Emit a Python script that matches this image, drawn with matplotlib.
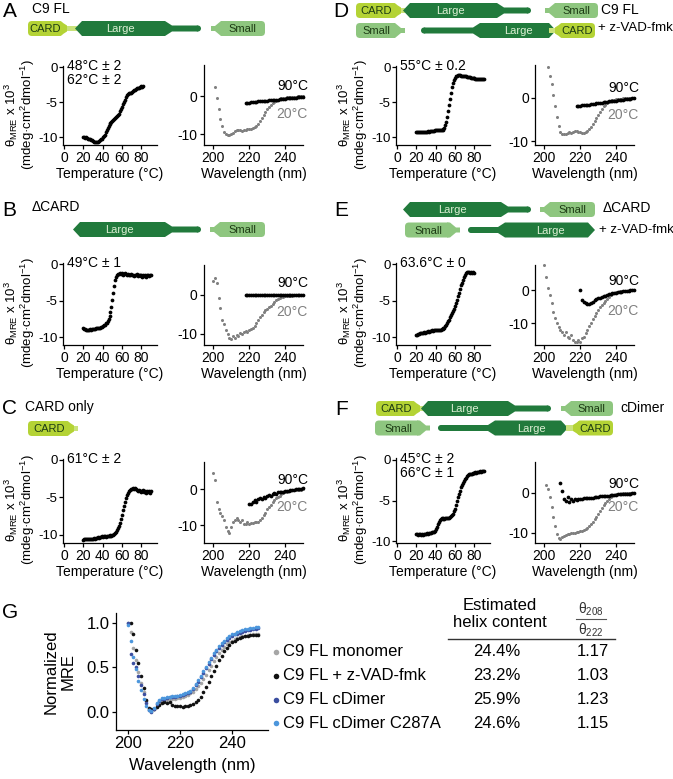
import numpy as np
import matplotlib
matplotlib.use('Agg')
import matplotlib.pyplot as plt
from matplotlib.patches import Polygon, FancyBboxPatch, Circle

plt.rcParams['font.family'] = ['Liberation Sans', 'DejaVu Sans']
plt.rcParams['mathtext.fontset'] = 'custom'
plt.rcParams['mathtext.rm'] = 'Liberation Sans'
plt.rcParams['mathtext.it'] = 'Liberation Sans:italic'
plt.rcParams['axes.unicode_minus'] = False

# ---- thermal melts (theta at 222 nm, x10^3), 1 degree steps from 20 C ----
melt_A = [-10.0, -10.0, -10.1, -10.0, -10.1, -10.2, -10.2, -10.3, -10.4, -10.4,
          -10.5, -10.6, -10.6, -10.7, -10.6, -10.6, -10.5, -10.4, -10.3, -10.2,
          -10.0, -9.8, -9.6, -9.3, -9.0, -8.7, -8.4, -8.1, -7.9, -7.8,
          -7.6, -7.5, -7.4, -7.2, -7.1, -7.0, -6.8, -6.6, -6.3, -6.0,
          -5.7, -5.3, -5.0, -4.6, -4.3, -4.0, -3.8, -3.7, -3.6, -3.6,
          -3.5, -3.4, -3.3, -3.3, -3.1, -3.0, -2.9, -2.9, -2.8, -2.8,
          -2.7, -2.8, -2.7]
melt_B = [-8.8, -8.9, -8.9, -9.0, -9.0, -9.0, -9.0, -8.9, -9.0, -8.9,
          -8.9, -8.9, -8.9, -8.8, -8.8, -8.8, -8.7, -8.7, -8.6, -8.6,
          -8.5, -8.4, -8.3, -8.1, -8.0, -7.8, -7.5, -7.1, -6.5, -5.8,
          -4.9, -3.9, -3.0, -2.2, -1.7, -1.4, -1.3, -1.3, -1.2, -1.3,
          -1.2, -1.4, -1.3, -1.2, -1.3, -1.4, -1.3, -1.5, -1.4, -1.3,
          -1.5, -1.4, -1.6, -1.4, -1.5, -1.3, -1.6, -1.5, -1.4, -1.6,
          -1.5, -1.7, -1.4, -1.6, -1.5, -1.7, -1.5, -1.4, -1.6, -1.5,
          -1.4]
melt_C = [-10.7, -10.6, -10.6, -10.5, -10.6, -10.5, -10.6, -10.5, -10.5, -10.6,
          -10.5, -10.4, -10.5, -10.4, -10.4, -10.3, -10.4, -10.3, -10.3, -10.2,
          -10.3, -10.2, -10.2, -10.3, -10.1, -10.2, -10.1, -10.2, -10.0, -10.1,
          -10.0, -10.0, -9.9, -9.8, -9.6, -9.4, -9.1, -8.8, -8.4, -7.9,
          -7.3, -6.7, -6.1, -5.6, -5.1, -4.7, -4.4, -4.2, -4.0, -3.9,
          -3.9, -3.8, -3.9, -3.8, -3.9, -4.0, -4.1, -4.0, -4.2, -4.1,
          -4.3, -4.2, -4.0, -4.3, -4.1, -4.4, -4.2, -4.3, -4.1, -4.4,
          -4.2]
melt_D = [-9.3, -9.3, -9.3, -9.3, -9.3, -9.2, -9.3, -9.2, -9.2, -9.2,
          -9.2, -9.2, -9.1, -9.2, -9.1, -9.1, -9.1, -9.1, -9.1, -9.0,
          -9.0, -9.0, -9.0, -9.0, -9.0, -9.0, -8.9, -8.9, -8.8, -8.6,
          -8.3, -7.8, -7.1, -6.3, -5.4, -4.5, -3.6, -2.8, -2.2, -1.8,
          -1.5, -1.3, -1.2, -1.1, -1.1, -1.1, -1.2, -1.2, -1.2, -1.3,
          -1.3, -1.3, -1.4, -1.4, -1.4, -1.4, -1.5, -1.5, -1.5, -1.5,
          -1.5, -1.6, -1.6, -1.6, -1.6, -1.6, -1.6, -1.7, -1.6, -1.7,
          -1.7]
melt_E = [-9.7, -9.7, -9.6, -9.6, -9.5, -9.5, -9.4, -9.4, -9.3, -9.4,
          -9.3, -9.3, -9.2, -9.3, -9.2, -9.2, -9.1, -9.2, -9.1, -9.1,
          -9.1, -9.1, -9.0, -9.1, -9.0, -9.0, -8.9, -8.9, -8.8, -8.7,
          -8.5, -8.3, -8.1, -7.8, -7.6, -7.3, -7.0, -6.7, -6.4, -6.1,
          -5.7, -5.3, -4.9, -4.4, -3.9, -3.4, -2.9, -2.5, -2.1, -1.7,
          -1.4, -1.2, -1.1, -1.1, -1.1, -1.2, -1.1, -1.2, -1.1, -1.2]
melt_F = [-9.1, -9.1, -9.2, -9.1, -9.1, -9.2, -9.1, -9.2, -9.1, -9.1,
          -9.1, -9.0, -9.1, -9.0, -9.0, -9.0, -8.9, -8.9, -8.8, -8.7,
          -8.5, -8.2, -7.9, -7.6, -7.4, -7.3, -7.2, -7.3, -7.2, -7.3,
          -7.2, -7.2, -7.1, -7.2, -7.1, -7.0, -6.9, -6.8, -6.6, -6.3,
          -6.0, -5.6, -5.1, -4.6, -4.2, -3.8, -3.4, -3.1, -2.8, -2.6,
          -2.4, -2.2, -2.0, -1.9, -1.8, -1.8, -1.7, -1.7, -1.6, -1.6,
          -1.6, -1.5, -1.6, -1.5, -1.5, -1.5, -1.4, -1.5, -1.4, -1.4,
          -1.4]
melt_start = 20
melt_notes = {'A': ['48°C ± 2', '62°C ± 2'], 'B': ['49°C ± 1'], 'C': ['61°C ± 2'],
              'D': ['55°C ± 0.2'], 'E': ['63.6°C ± 0'], 'F': ['45°C ± 2', '66°C ± 1']}

# ---- CD spectra (x10^3), 1 nm steps; (first wavelength, values) ----
cd20_A = (201, [2.5, -0.5, -3.5, -6.0, -8.0, -9.4, -10.1, -10.3, -10.3, -10.0,
                -9.7, -9.3, -9.0, -8.9, -9.0, -9.1, -9.0, -8.9, -8.8, -8.8,
                -8.7, -8.5, -8.2, -7.8, -7.3, -6.7, -5.9, -5.0, -4.2, -3.5,
                -2.9, -2.3, -1.9, -1.5, -1.2, -1.0, -0.8, -0.6, -0.5, -0.4,
                -0.3, -0.3, -0.3, -0.2, -0.2, -0.2, -0.1, -0.1, -0.1, -0.1])
cd90_A = (218, [-1.8, -1.7, -1.7, -1.6, -1.6, -1.5, -1.5, -1.4, -1.4, -1.3,
                -1.3, -1.2, -1.2, -1.1, -1.1, -1.0, -1.0, -0.9, -0.9, -0.8,
                -0.8, -0.7, -0.7, -0.6, -0.6, -0.5, -0.5, -0.4, -0.4, -0.3,
                -0.3, -0.3, -0.2])
cd20_B = (200, [3.5, 4.3, 3.0, -1.0, -3.5, -6.5, -7.5, -9.0, -10.0, -11.0,
                -11.2, -10.5, -11.0, -10.2, -10.5, -9.8, -10.0, -9.5, -9.3, -9.5,
                -9.0, -8.8, -8.5, -8.0, -7.2, -6.5, -5.8, -5.2, -4.5, -4.0,
                -3.6, -3.2, -2.8, -2.3, -1.8, -1.4, -1.1, -0.8, -0.6, -0.5,
                -0.4, -0.3, -0.3, -0.3, -0.3, -0.2, -0.2, -0.2, -0.2, -0.2, -0.2])
cd90_B = (218, [-0.2, -0.1, -0.2, -0.2, -0.1, -0.2, -0.2, -0.1, -0.2, -0.2,
                -0.1, -0.2, -0.1, -0.2, -0.2, -0.1, -0.2, -0.1, -0.2, -0.2,
                -0.1, -0.2, -0.1, -0.1, -0.2, -0.1, -0.1, -0.2, -0.1, -0.1,
                -0.1, -0.1, -0.1])
cd20_C = (200, [4.5, 2.5, -3.5, -5.5, -6.5, -7.5, -8.5, -10.5, -11.5, -12.0,
                -10.5, -9.0, -8.5, -8.0, -8.5, -9.0, -8.5, -9.5, -9.5, -9.0,
                -9.5, -9.3, -9.3, -9.0, -9.2, -9.0, -8.5, -8.0, -7.2, -6.5,
                -5.5, -5.0, -4.3, -3.5, -3.0, -2.5, -2.0, -1.8, -1.3, -1.0,
                -0.8, -0.6, -0.5, -0.4, -0.3, -0.3, -0.2, -0.2, -0.1, -0.1, 0.0])
cd90_C = (220, [-4.0, -4.2, -3.5, -3.0, -3.5, -2.8, -2.5, -2.8, -2.0, -2.3,
                -1.8, -1.5, -1.8, -1.2, -1.0, -1.2, -0.8, -0.7, -0.6, -0.8,
                -0.5, -0.4, -0.5, -0.3, -0.2, -0.1, 0.0, 0.1, 0.0, 0.2, 0.3])
cd20_D = (202, [7.0, 5.0, 3.0, 0.5, -2.0, -4.5, -6.5, -7.8, -8.4, -8.4,
                -8.2, -8.0, -7.9, -8.0, -7.9, -7.7, -7.6, -7.8, -7.9, -8.0,
                -8.0, -7.9, -7.6, -7.2, -6.7, -6.0, -5.3, -4.6, -3.9, -3.2,
                -2.6, -2.0, -1.6, -1.3, -1.0, -0.8, -0.6, -0.5, -0.4, -0.3,
                -0.3, -0.3, -0.2, -0.2, -0.2, -0.1, -0.1, -0.1, -0.1])
cd90_D = (218, [-2.0, -1.9, -1.9, -1.8, -1.8, -1.7, -1.6, -1.6, -1.5, -1.5,
                -1.4, -1.3, -1.3, -1.2, -1.2, -1.1, -1.0, -1.0, -0.9, -0.9,
                -0.8, -0.7, -0.7, -0.6, -0.6, -0.5, -0.5, -0.4, -0.4, -0.3,
                -0.3, -0.2, -0.2])
cd20_E = (200, [7.5, 4.0, 0.5, -1.5, -4.0, -6.5, -8.5, -10.0, -11.0, -12.0,
                -12.5, -13.5, -12.5, -14.0, -14.5, -13.5, -15.0, -15.5, -15.5, -15.0,
                -15.5, -14.5, -14.0, -13.0, -12.0, -10.8, -9.8, -8.8, -7.8, -6.8,
                -6.0, -5.2, -4.5, -3.8, -3.2, -2.6, -2.1, -1.6, -1.2, -0.9,
                -0.7, -0.5, -0.4, -0.3, -0.3, -0.2, -0.2, -0.1, -0.1, -0.1, 0.0])
cd90_E = (220, [0.0, -3.0, -3.6, -4.0, -4.3, -4.1, -3.8, -3.5, -3.1, -2.8,
                -2.5, -2.3, -2.1, -1.9, -1.7, -1.5, -1.3, -1.2, -1.0, -0.9,
                -0.8, -0.7, -0.6, -0.5, -0.4, -0.3, -0.3, -0.2, -0.1, -0.1, 0.0])
cd20_F = (201, [2.0, 1.0, -1.0, -3.5, -6.0, -8.3, -10.2, -11.3, -11.4, -11.0,
                -10.7, -10.5, -10.3, -10.2, -10.1, -10.0, -9.9, -9.8, -9.7, -9.6,
                -9.4, -9.2, -9.0, -8.7, -8.3, -7.8, -7.2, -6.6, -5.9, -5.2,
                -4.5, -3.8, -3.1, -2.5, -2.0, -1.5, -1.1, -0.8, -0.5, -0.3,
                -0.2, -0.2, -0.2, -0.1, -0.1, -0.1, -0.1, -0.1, -0.1, -0.1])
cd90_F = (209, [2.5, 0.5, -1.5, -2.0, -1.0, -2.2, -1.6, -2.0, -1.5, -1.8,
                -1.6, -1.5, -1.5, -1.4, -1.4, -1.3, -1.3, -1.2, -1.2, -1.1,
                -1.0, -1.0, -0.9, -0.9, -0.8, -0.8, -0.7, -0.7, -0.6, -0.6,
                -0.5, -0.5, -0.4, -0.4, -0.3, -0.3, -0.3, -0.2, -0.2, -0.2,
                -0.1, -0.1])

# ---- panel G: normalized spectra ----
g_names = ['C9 FL monomer', 'C9 FL + z-VAD-fmk', 'C9 FL cDimer', 'C9 FL cDimer C287A']
g_helix = ['24.4%', '23.2%', '25.9%', '24.6%']
g_ratio = ['1.17', '1.03', '1.23', '1.15']
g_colors = ['#a6a6a6', '#111111', '#3b4ea0', '#4c96dc']
g_monomer = (200, [1.00, 0.90, 0.72, 0.58, 0.45, 0.33, 0.22, 0.12, 0.04, 0.01,
                   0.03, 0.07, 0.10, 0.12, 0.13, 0.14, 0.15, 0.15, 0.15, 0.16,
                   0.16, 0.17, 0.18, 0.19, 0.21, 0.23, 0.26, 0.29, 0.33, 0.37,
                   0.42, 0.47, 0.52, 0.57, 0.62, 0.66, 0.70, 0.73, 0.76, 0.78,
                   0.80, 0.82, 0.83, 0.84, 0.85, 0.85, 0.86, 0.86, 0.87, 0.87, 0.87])
g_zvad = (201, [1.00, 0.88, 0.70, 0.55, 0.40, 0.27, 0.14, 0.05, 0.03,
                0.04, 0.06, 0.08, 0.10, 0.11, 0.10, 0.11, 0.08, 0.07, 0.07,
                0.07, 0.06, 0.07, 0.07, 0.08, 0.09, 0.11, 0.14, 0.17, 0.22,
                0.28, 0.34, 0.40, 0.46, 0.52, 0.58, 0.63, 0.68, 0.72, 0.75,
                0.78, 0.80, 0.82, 0.83, 0.84, 0.85, 0.85, 0.86, 0.86, 0.86, 0.86])
g_cdimer = (200, [1.00, 0.65, 0.55, 0.50, 0.40, 0.30, 0.20, 0.10, 0.02, 0.00,
                  0.04, 0.09, 0.13, 0.15, 0.15, 0.16, 0.17, 0.17, 0.17, 0.18,
                  0.18, 0.19, 0.20, 0.21, 0.23, 0.26, 0.30, 0.34, 0.39, 0.44,
                  0.49, 0.54, 0.59, 0.64, 0.68, 0.72, 0.75, 0.78, 0.81, 0.83,
                  0.85, 0.87, 0.88, 0.89, 0.90, 0.91, 0.92, 0.92, 0.93, 0.93, 0.94])
g_c287a = (200, [0.98, 0.80, 0.62, 0.48, 0.35, 0.25, 0.15, 0.07, 0.02, 0.01,
                 0.05, 0.10, 0.14, 0.16, 0.16, 0.17, 0.17, 0.18, 0.18, 0.18,
                 0.19, 0.20, 0.21, 0.22, 0.24, 0.27, 0.31, 0.36, 0.41, 0.46,
                 0.51, 0.56, 0.61, 0.66, 0.70, 0.74, 0.77, 0.80, 0.83, 0.85,
                 0.87, 0.88, 0.90, 0.91, 0.92, 0.93, 0.93, 0.94, 0.94, 0.95, 0.95])

# colours of the domain cartoons
c_card, c_card_neck = '#b4d335', '#c9e27a'
c_large, c_small = '#217a3c', '#8ec67f'
txt_dark, txt_light = '#1d3b14', '#dcefd3'
grey20 = '#808080'

W, H = 673, 779
fig = plt.figure(figsize=(W / 100, H / 100), dpi=100)
ov = fig.add_axes([0, 0, 1, 1])
ov.set_xlim(0, W)
ov.set_ylim(H, 0)
ov.axis('off')


def axes_px(l, t, r, b):
    return fig.add_axes([l / W, 1 - b / H, (r - l) / W, (b - t) / H])


def style(ax, fs=10):
    for s in ['top', 'right']:
        ax.spines[s].set_visible(False)
    for s in ['left', 'bottom']:
        ax.spines[s].set_linewidth(0.9)
    ax.tick_params(length=3, width=0.9, labelsize=fs, pad=1.5)
    ax.patch.set_alpha(0)


def melt_panel(key, l, t, r, b, vals, ylim, xlim=(-1, 96)):
    ax = axes_px(l, t, r, b)
    T = melt_start + np.arange(len(vals))
    ax.plot(T, vals, 'o', ms=2.7, color='black', mec='none', clip_on=False)
    ax.set_xlim(*xlim)
    ax.set_ylim(*ylim)
    ax.set_xticks([0, 20, 40, 60, 80])
    ax.set_yticks([0, -5, -10])
    style(ax)
    ax.tick_params(axis='y', labelsize=9.5, pad=1)
    ax.set_xlabel('Temperature (°C)', fontsize=10, labelpad=1)
    y0 = t + (ylim[1] - 0) / (ylim[1] - ylim[0]) * (b - t)
    for i, line in enumerate(melt_notes[key]):
        ov.text(l + 4, y0 - 1 + 14 * i, line, fontsize=10, va='center', ha='left')
    yc = (t + b) / 2 + 9
    ov.text(l - 43, yc, 'θ$_{\\mathrm{MRE}}$ x 10$^3$\n(mdeg·cm$^2$dmol$^{-1}$)',
            rotation=90, ha='center', va='center', multialignment='center',
            fontsize=9.5, linespacing=0.95)
    return ax


def spec_panel(l, t, r, b, cd20, cd90, ylim, y90, y20):
    ax = axes_px(l, t, r, b)
    w20 = cd20[0] + np.arange(len(cd20[1]))
    w90 = cd90[0] + np.arange(len(cd90[1]))
    ax.plot(w20, cd20[1], 'o', ms=2.2, color=grey20, mec='none', clip_on=False)
    ax.plot(w90, cd90[1], 'o', ms=2.7, color='black', mec='none', clip_on=False)
    ax.set_xlim(194.8, 250)
    ax.set_ylim(*ylim)
    ax.set_xticks([200, 220, 240])
    ax.set_yticks([0, -10])
    style(ax)
    ax.set_xlabel('Wavelength (nm)', fontsize=10, labelpad=1)
    ax.text(1.05, y90, '90°C', transform=ax.transAxes, ha='right', va='center', fontsize=10)
    ax.text(1.05, y20, '20°C', transform=ax.transAxes, ha='right', va='center',
            fontsize=10, color=grey20)
    return ax


# ---- domain cartoons (pixel coordinates on the overlay) ----
def rbox(x0, x1, yc, color, r=4):
    a, b = min(x0, x1), max(x0, x1)
    ov.add_patch(FancyBboxPatch((a, yc - 7.5), b - a, 15,
                                boxstyle='round,pad=0,rounding_size=%g' % r,
                                fc=color, ec='none'))


def card(x_far, x_box, x_neck, yc):
    s = np.sign(x_neck - x_box)
    rbox(x_far, x_box, yc, c_card)
    ov.add_patch(Polygon([(x_box - 3 * s, yc - 7.5), (x_box + 4 * s, yc - 3),
                          (x_box + 4 * s, yc + 3), (x_box - 3 * s, yc + 7.5)],
                         closed=True, fc=c_card, ec='none'))
    ov.add_patch(Polygon([(x_box + 4 * s, yc - 2.8), (x_neck, yc - 2.8),
                          (x_neck, yc + 2.8), (x_box + 4 * s, yc + 2.8)],
                         closed=True, fc=c_card_neck, ec='none'))
    ov.text((x_far + x_box) / 2, yc + 0.5, 'CARD', ha='center', va='center',
            fontsize=8, color=txt_dark)


def large(x_pt, x_box, x_neck, yc):
    s = np.sign(x_neck - x_pt)
    pts = [(x_pt, yc), (x_pt + 7 * s, yc - 7.5), (x_box, yc - 7.5),
           (x_box + 7 * s, yc - 3), (x_neck, yc - 3), (x_neck, yc + 3),
           (x_box + 7 * s, yc + 3), (x_box, yc + 7.5), (x_pt + 7 * s, yc + 7.5)]
    ov.add_patch(Polygon(pts, closed=True, fc=c_large, ec='none'))
    ov.add_patch(Circle((x_neck, yc), 3, fc=c_large, ec='none'))
    ov.text((x_pt + x_box) / 2, yc + 0.5, 'Large', ha='center', va='center',
            fontsize=8, color=txt_light)


def small(x_tip, x_far, yc):
    s = np.sign(x_far - x_tip)
    ov.add_patch(Polygon([(x_tip, yc - 2.5), (x_tip + 4 * s, yc - 2.5),
                          (x_tip + 10 * s, yc - 7.5), (x_tip + 13 * s, yc - 7.5),
                          (x_tip + 13 * s, yc + 7.5), (x_tip + 10 * s, yc + 7.5),
                          (x_tip + 4 * s, yc + 2.5), (x_tip, yc + 2.5)],
                         closed=True, fc=c_small, ec='none'))
    rbox(x_tip + 9 * s, x_far, yc, c_small)
    ov.text((x_tip + 9 * s + x_far) / 2, yc + 0.5, 'Small', ha='center',
            va='center', fontsize=8, color=txt_dark)


# panel letters and construct names
for lab, x, y in [('A', 9.5, 11), ('B', 9.5, 210), ('C', 9.5, 408),
                  ('D', 341, 11), ('E', 341, 210), ('F', 342, 409), ('G', 10.5, 613)]:
    ov.text(x, y, lab, fontsize=15, ha='center', va='center')
for txt, x, y in [('C9 FL', 32, 9), ('ΔCARD', 32, 207), ('CARD only', 25, 407),
                  ('C9 FL', 601, 10), ('+ z-VAD-fmk', 598, 28),
                  ('ΔCARD', 603, 208), ('+ z-VAD-fmk', 599, 230), ('cDimer', 620, 408)]:
    fs = 9.5 if 'z-VAD' in txt else 10
    ov.text(x, y, txt, fontsize=fs, ha='left', va='center')

# A
card(28, 63, 77, 28.5); large(75, 165, 198, 28.5); small(211, 265, 28.5)
# B
large(73, 165, 198, 229.5); small(210, 265, 229.5)
# C
card(28, 70, 78, 428.5)
# D
card(356, 397, 405, 10.5); large(403, 497, 528, 10.5); small(545, 598, 10.5)
small(405, 356, 30.5); large(556, 480, 424, 30.5); card(595, 559, 549, 30.5)
# E
large(403, 501, 528, 209.5); small(540, 595, 209.5)
small(460, 405, 230); large(595, 505, 471, 230)
# F
card(376, 416, 425, 408.5); large(421, 508, 548, 408.5); small(561, 613, 408.5)
small(430, 375, 428); large(568, 495, 441, 428); card(613, 577, 566, 428)

# ---- melt and spectrum panels ----
melt_panel('A', 63, 66, 157, 145, melt_A, (-11.1, 0.2))
melt_panel('B', 63, 263, 157, 345, melt_B, (-11.1, 0.2))
melt_panel('C', 63, 458.5, 157, 543, melt_C, (-11.1, 0.2))
melt_panel('D', 396, 66, 490, 145, melt_D, (-11.1, 0.2))
melt_panel('E', 396, 263, 490, 345, melt_E, (-11.1, 0.2))
melt_panel('F', 396, 458, 490, 543, melt_F, (-10.2, 0.2))

spec_panel(204, 65, 303, 145, cd20_A, cd90_A, (-12.9, 8.2), 0.74, 0.39)
spec_panel(204, 265, 303, 345, cd20_B, cd90_B, (-12.8, 7.5), 0.77, 0.41)
spec_panel(204, 462, 303, 543, cd20_C, cd90_C, (-14.9, 7.6), 0.78, 0.45)
spec_panel(535, 65, 634, 145, cd20_D, cd90_D, (-10.8, 7.4), 0.71, 0.37)
spec_panel(535, 265, 634, 345, cd20_E, cd90_E, (-16.5, 7.5), 0.80, 0.43)
spec_panel(535, 462, 634, 543, cd20_F, cd90_F, (-12.5, 7.7), 0.73, 0.45)

# ---- panel G ----
axG = axes_px(116, 613, 268, 730)
for (start, vals), c in zip([g_monomer, g_zvad, g_cdimer, g_c287a], g_colors):
    axG.plot(start + np.arange(len(vals)), vals, 'o', ms=2.6, color=c, mec='none')
axG.set_xlim(195.4, 253.8)
axG.set_ylim(-0.2, 1.11)
axG.set_xticks([200, 220, 240])
axG.set_yticks([0, 0.5, 1.0])
axG.set_yticklabels(['0.0', '0.5', '1.0'])
style(axG, fs=12)
axG.set_xlabel('Wavelength (nm)', fontsize=12, labelpad=5)
ov.text(60, 672, 'Normalized\nMRE', rotation=90, ha='center', va='center',
        multialignment='center', fontsize=12, linespacing=1.15)

rows_y = [652, 676, 700, 723]
for name, hx, rt, c, y in zip(g_names, g_helix, g_ratio, g_colors, rows_y):
    ov.plot(276, y, 'o', ms=4, color=c, mec='none')
    ov.text(283, y, name, fontsize=12, ha='left', va='center')
    ov.text(497, y, hx, fontsize=12, ha='center', va='center')
    ov.text(593, y, rt, fontsize=12, ha='center', va='center')
ov.text(500, 614, 'Estimated\nhelix content', fontsize=12, ha='center', va='center',
        linespacing=1.1)
ov.text(591, 609, r'θ$_{208}$', fontsize=10, ha='center', va='center', color='#333333')
ov.text(591, 630, r'θ$_{222}$', fontsize=10, ha='center', va='center', color='#333333')
ov.plot([576, 606], [619, 619], color='#555555', lw=0.8)
ov.plot([448, 615], [639, 639], color='#333333', lw=1.0)

fig.savefig('out.png', dpi=100)
